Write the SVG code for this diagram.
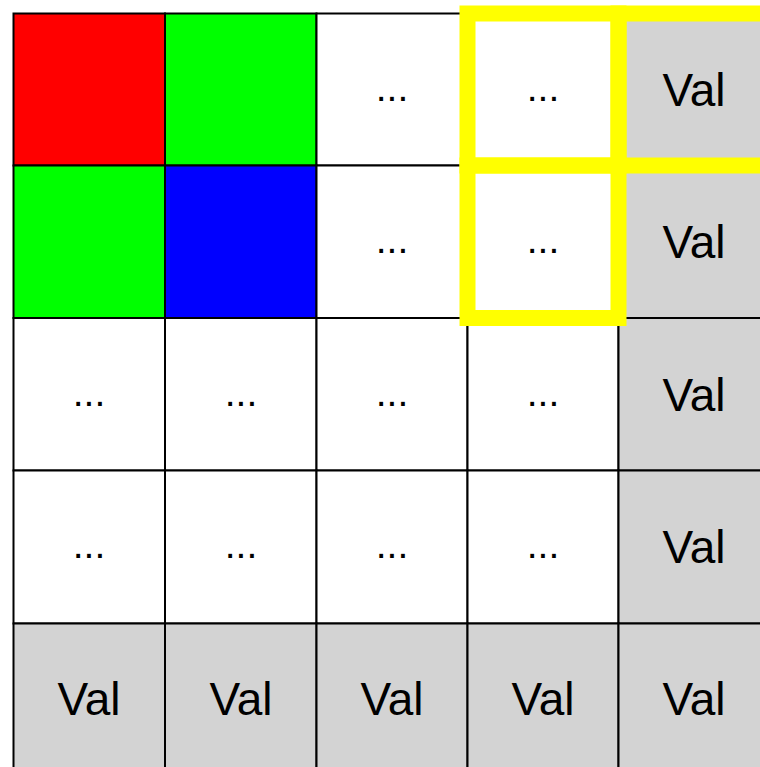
<svg xmlns="http://www.w3.org/2000/svg" width="760" height="767" viewBox="0 0 760 767">
<style>
.c{stroke:#000;stroke-width:2}
.w{fill:#fff}.g{fill:#d3d3d3}
.t{font-family:"Liberation Sans",Arial,sans-serif;fill:#000;text-anchor:middle}
.v{font-size:46px}
.d{font-size:39px}
.y{fill:none;stroke:#ffff00;stroke-width:16}
</style>
<rect width="760" height="767" fill="#fff"/>
<g id="cells">
<g id="c00"><rect class="c" x="13.5" y="13.5" width="151.5" height="152" fill="#ff0000"/></g>
<g id="c01"><rect class="c" x="165" y="13.5" width="151.5" height="152" fill="#00ff00"/></g>
<g id="c02"><rect class="c w" x="316.5" y="13.5" width="151" height="152"/><text class="t d" x="392" y="101">...</text></g>
<g id="c03"><rect class="c w" x="467.5" y="13.5" width="151" height="152"/><text class="t d" x="543" y="101">...</text></g>
<g id="c04"><rect class="c g" x="618.5" y="13.5" width="151.5" height="152"/><text class="t v" x="694" y="106">Val</text></g>

<g id="c10"><rect class="c" x="13.5" y="165.5" width="151.5" height="152.5" fill="#00ff00"/></g>
<g id="c11"><rect class="c" x="165" y="165.5" width="151.5" height="152.5" fill="#0000ff"/></g>
<g id="c12"><rect class="c w" x="316.5" y="165.5" width="151" height="152.5"/><text class="t d" x="392" y="253">...</text></g>
<g id="c13"><rect class="c w" x="467.5" y="165.5" width="151" height="152.5"/><text class="t d" x="543" y="253">...</text></g>
<g id="c14"><rect class="c g" x="618.5" y="165.5" width="151.5" height="152.5"/><text class="t v" x="694" y="258">Val</text></g>

<g id="c20"><rect class="c w" x="13.5" y="318" width="151.5" height="152.5"/><text class="t d" x="89" y="406">...</text></g>
<g id="c21"><rect class="c w" x="165" y="318" width="151.5" height="152.5"/><text class="t d" x="241" y="406">...</text></g>
<g id="c22"><rect class="c w" x="316.5" y="318" width="151" height="152.5"/><text class="t d" x="392" y="406">...</text></g>
<g id="c23"><rect class="c w" x="467.5" y="318" width="151" height="152.5"/><text class="t d" x="543" y="406">...</text></g>
<g id="c24"><rect class="c g" x="618.5" y="318" width="151.5" height="152.5"/><text class="t v" x="694" y="411">Val</text></g>

<g id="c30"><rect class="c w" x="13.5" y="470.5" width="151.5" height="153"/><text class="t d" x="89" y="558">...</text></g>
<g id="c31"><rect class="c w" x="165" y="470.5" width="151.5" height="153"/><text class="t d" x="241" y="558">...</text></g>
<g id="c32"><rect class="c w" x="316.5" y="470.5" width="151" height="153"/><text class="t d" x="392" y="558">...</text></g>
<g id="c33"><rect class="c w" x="467.5" y="470.5" width="151" height="153"/><text class="t d" x="543" y="558">...</text></g>
<g id="c34"><rect class="c g" x="618.5" y="470.5" width="151.5" height="153"/><text class="t v" x="694" y="563">Val</text></g>

<g id="c40"><rect class="c g" x="13.5" y="623.5" width="151.5" height="153"/><text class="t v" x="89" y="715">Val</text></g>
<g id="c41"><rect class="c g" x="165" y="623.5" width="151.5" height="153"/><text class="t v" x="241" y="715">Val</text></g>
<g id="c42"><rect class="c g" x="316.5" y="623.5" width="151" height="153"/><text class="t v" x="392" y="715">Val</text></g>
<g id="c43"><rect class="c g" x="467.5" y="623.5" width="151" height="153"/><text class="t v" x="543" y="715">Val</text></g>
<g id="c44"><rect class="c g" x="618.5" y="623.5" width="151.5" height="153"/><text class="t v" x="694" y="715">Val</text></g>
</g>
<g id="highlight">
<rect class="y" x="467.5" y="13.5" width="151" height="152"/>
<rect class="y" x="467.5" y="165.5" width="151" height="152.5"/>
<rect class="y" x="618.5" y="13.5" width="151.5" height="152"/>
</g>
</svg>
